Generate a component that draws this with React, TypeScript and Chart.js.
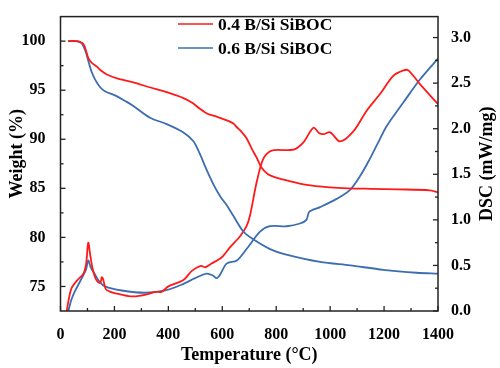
import React, { useEffect, useRef } from "react";
import { Chart, registerables } from "chart.js";

Chart.register(...registerables);

// ---- data ----
const tempTicks = [0, 200, 400, 600, 800, 1000, 1200, 1400];
const weightTicks = [75, 80, 85, 90, 95, 100];
const dscTicks = [0, 0.5, 1.0, 1.5, 2.0, 2.5, 3.0];

const seriesLabels = ["0.4 B/Si SiBOC", "0.6 B/Si SiBOC"];
const axisTitles = { x: "Temperature (°C)", y: "Weight (%)", y2: "DSC (mW/mg)" };

const redTgaT = [28, 50, 70, 85, 95, 103, 115, 135, 150, 172, 210, 270, 330, 394, 456, 490, 517, 545, 579, 620, 641, 655, 670, 690, 710, 728, 746, 771, 800, 839, 913, 1000, 1067, 1150, 1250, 1370, 1400];
const redTgaW = [100, 100, 99.95, 99.7, 99.0, 98.3, 97.8, 97.4, 97.0, 96.6, 96.2, 95.8, 95.3, 94.8, 94.2, 93.7, 93.1, 92.6, 92.3, 91.9, 91.6, 91.2, 90.8, 90.1, 89.0, 88.1, 87.1, 86.4, 86.1, 85.8, 85.35, 85.1, 85.0, 84.95, 84.9, 84.8, 84.6];

const blueTgaT = [28, 60, 78, 88, 95, 103, 115, 128, 147, 165, 208, 240, 270, 332, 394, 456, 493, 517, 540, 567, 592, 616, 641, 678, 715, 777, 830, 963, 1074, 1197, 1321, 1400];
const blueTgaW = [100, 100, 99.8, 99.3, 98.8, 98.0, 96.9, 96.1, 95.3, 94.9, 94.4, 93.9, 93.4, 92.2, 91.55, 90.7, 89.8, 88.5, 87.0, 85.4, 84.2, 83.3, 82.2, 80.6, 79.8, 78.8, 78.3, 77.5, 77.15, 76.7, 76.4, 76.3];

const redDscT = [23, 30, 41, 60, 85, 95, 103, 110, 118, 128, 138, 148, 153, 158, 168, 185, 210, 260, 300, 330, 350, 375, 400, 456, 487, 520, 537, 560, 598, 629, 666, 690, 703, 728, 752, 783, 864, 901, 938, 960, 975, 1000, 1037, 1086, 1136, 1185, 1234, 1272, 1290, 1333, 1400];
const redDscD = [0.0, 0.12, 0.25, 0.33, 0.41, 0.52, 0.75, 0.62, 0.48, 0.37, 0.32, 0.31, 0.37, 0.35, 0.24, 0.21, 0.19, 0.16, 0.17, 0.19, 0.21, 0.21, 0.27, 0.34, 0.44, 0.495, 0.48, 0.52, 0.59, 0.7, 0.82, 0.93, 1.05, 1.42, 1.67, 1.76, 1.77, 1.85, 2.01, 1.95, 1.94, 1.96, 1.86, 1.97, 2.2, 2.38, 2.58, 2.64, 2.64, 2.49, 2.27];

const blueDscT = [29, 40, 54, 79, 95, 103, 112, 128, 145, 165, 227, 313, 388, 450, 499, 542, 565, 579, 592, 616, 654, 690, 740, 777, 839, 888, 912, 923, 963, 1024, 1074, 1111, 1142, 1175, 1210, 1272, 1333, 1400];
const blueDscD = [0.0, 0.12, 0.22, 0.36, 0.46, 0.555, 0.48, 0.4, 0.32, 0.27, 0.225, 0.2, 0.225, 0.29, 0.36, 0.41, 0.39, 0.36, 0.4, 0.52, 0.555, 0.68, 0.87, 0.93, 0.93, 0.96, 1.0, 1.09, 1.14, 1.23, 1.33, 1.48, 1.64, 1.83, 2.03, 2.29, 2.54, 2.77];

const RED = "#ff1a1a";
const BLUE = "#3c6db0";
const FONT = '"Liberation Serif", "Times New Roman", serif';

const pts = (xs: number[], ys: number[]) => xs.map((x, i) => ({ x, y: ys[i] }));

const framePlugin = {
  id: "frame",
  afterDatasetsDraw(chart: any) {
    const { ctx, chartArea: a } = chart;
    ctx.save();
    ctx.strokeStyle = "#222";
    ctx.lineWidth = 1.5;
    ctx.strokeRect(a.left, a.top, a.right - a.left, a.bottom - a.top);
    ctx.lineWidth = 1.3;
    const drawTicks = (scale: any, side: string) => {
      const vals = scale.ticks.map((t: any) => t.value);
      const minors: number[] = [];
      for (let i = 0; i < vals.length - 1; i++) minors.push((vals[i] + vals[i + 1]) / 2);
      const all = [
        ...vals.map((v: number) => [v, 5]),
        ...minors.map((v: number) => [v, 3]),
      ];
      for (const [v, len] of all) {
        const p = scale.getPixelForValue(v);
        ctx.beginPath();
        if (side === "bottom") {
          ctx.moveTo(p, a.bottom);
          ctx.lineTo(p, a.bottom - len);
        } else if (side === "left") {
          ctx.moveTo(a.left, p);
          ctx.lineTo(a.left + len, p);
        } else {
          ctx.moveTo(a.right, p);
          ctx.lineTo(a.right - len, p);
        }
        ctx.stroke();
      }
    };
    drawTicks(chart.scales.x, "bottom");
    drawTicks(chart.scales.y, "left");
    drawTicks(chart.scales.y2, "right");
    ctx.restore();
  },
  afterDraw(chart: any) {
    const { ctx, chartArea: a } = chart;
    ctx.save();
    // vertical axis titles, both reading bottom-to-top
    ctx.font = `bold 18px ${FONT}`;
    ctx.fillStyle = "#000";
    ctx.textAlign = "center";
    ctx.textBaseline = "middle";
    const midY = (a.top + a.bottom) / 2;
    ctx.save();
    ctx.translate(17, midY - 10);
    ctx.rotate(-Math.PI / 2);
    ctx.fillText(axisTitles.y, 0, 0);
    ctx.restore();
    ctx.save();
    ctx.translate(487, midY);
    ctx.rotate(-Math.PI / 2);
    ctx.fillText(axisTitles.y2, 0, 0);
    ctx.restore();
    // legend
    ctx.font = `bold 17.5px ${FONT}`;
    ctx.textAlign = "left";
    const rows = [24, 48];
    chart.data.datasets.forEach((ds: any) => {
      if (!ds.legend) return;
      const y = rows[ds.legendRow];
      ctx.strokeStyle = ds.borderColor;
      ctx.lineWidth = 1.6;
      ctx.beginPath();
      ctx.moveTo(178, y);
      ctx.lineTo(213, y);
      ctx.stroke();
      ctx.fillStyle = "#000";
      ctx.fillText(ds.label, 218, y + 1);
    });
    ctx.restore();
  },
};

export default function App() {
  const ref = useRef<HTMLCanvasElement>(null);
  useEffect(() => {
    if (!ref.current) return;
    const common = { pointRadius: 0, borderWidth: 1.8, tension: 0.3, fill: false };
    const chart = new Chart(ref.current, {
      type: "line",
      data: {
        datasets: [
          { ...common, label: seriesLabels[0], data: pts(redTgaT, redTgaW), borderColor: RED, yAxisID: "y", legend: true, legendRow: 0 } as any,
          { ...common, label: seriesLabels[1], data: pts(blueTgaT, blueTgaW), borderColor: BLUE, yAxisID: "y", legend: true, legendRow: 1 } as any,
          { ...common, label: seriesLabels[0] + " DSC", data: pts(redDscT, redDscD), borderColor: RED, yAxisID: "y2" } as any,
          { ...common, label: seriesLabels[1] + " DSC", data: pts(blueDscT, blueDscD), borderColor: BLUE, yAxisID: "y2" } as any,
        ],
      },
      options: {
        animation: false,
        responsive: false,
        devicePixelRatio: 1,
        layout: { padding: { top: 7, left: 0, right: 0, bottom: 0 } },
        plugins: { legend: { display: false }, tooltip: { enabled: false } },
        scales: {
          x: {
            type: "linear",
            position: "bottom",
            min: 0,
            max: 1400,
            afterBuildTicks: (s: any) => { s.ticks = tempTicks.map((v) => ({ value: v })); },
            afterFit: (s: any) => { s.height = 57; },
            grid: { display: false },
            border: { display: false },
            ticks: { color: "#000", padding: 6, maxRotation: 0, autoSkip: false, callback: (v: any) => String(v), font: { family: FONT, size: 16, weight: "bold" } },
            title: { display: true, text: axisTitles.x, color: "#000", padding: { top: 0, bottom: 1.5 }, font: { family: FONT, size: 18, weight: "bold" } },
          },
          y: {
            type: "linear",
            position: "left",
            min: 72.5,
            max: 102.5,
            afterBuildTicks: (s: any) => { s.ticks = weightTicks.map((v) => ({ value: v })); },
            afterFit: (s: any) => { s.width = 60.5; },
            grid: { display: false },
            border: { display: false },
            ticks: { color: "#000", padding: 7, autoSkip: false, callback: (v: any) => String(v), font: { family: FONT, size: 16, weight: "bold" } },
            title: { display: false },
          },
          y2: {
            type: "linear",
            position: "right",
            min: 0,
            max: 3.23,
            afterBuildTicks: (s: any) => { s.ticks = dscTicks.map((v) => ({ value: v })); },
            afterFit: (s: any) => { s.width = 62; },
            grid: { display: false },
            border: { display: false },
            ticks: { color: "#000", padding: 5, autoSkip: false, callback: (v: any) => Number(v).toFixed(1), font: { family: FONT, size: 16, weight: "bold" } },
            title: { display: false },
          },
        },
      } as any,
      plugins: [framePlugin],
    });
    return () => chart.destroy();
  }, []);
  return (
    <div style={{ position: "fixed", left: 0, top: 0, width: 500, height: 368, background: "#fff" }}>
      <canvas ref={ref} width={500} height={368} style={{ width: 500, height: 368, display: "block" }} />
    </div>
  );
}
